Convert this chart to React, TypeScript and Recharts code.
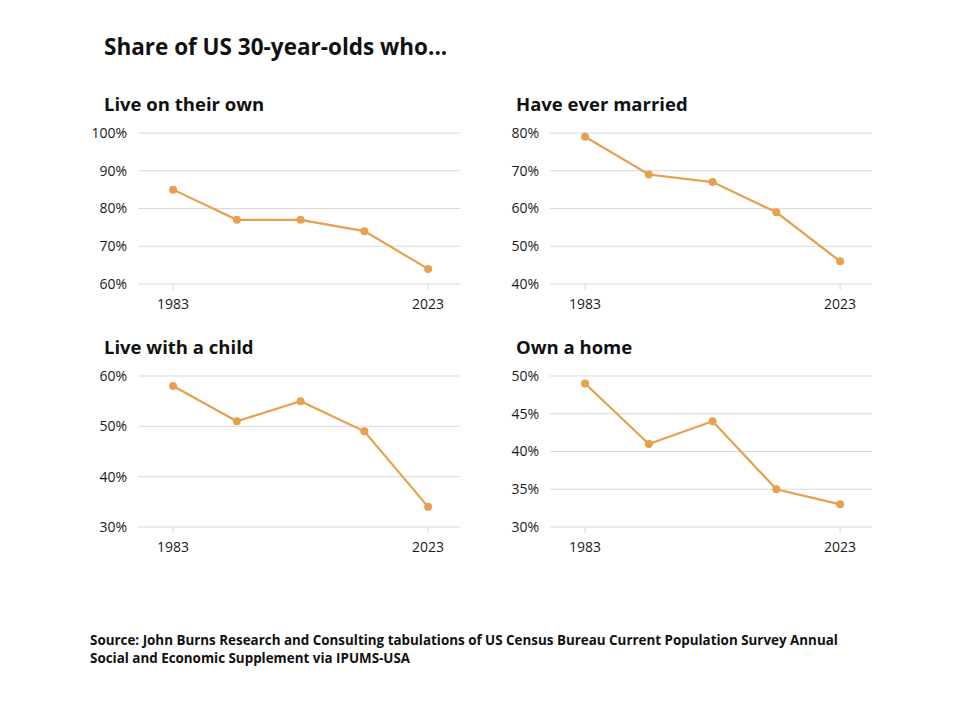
import { CartesianGrid, Line, LineChart, XAxis, YAxis } from 'recharts';

const years = [1983, 1993, 2003, 2013, 2023];
const yearTicks = [1983, 2023];

const liveAlone = [85, 77, 77, 74, 64];
const everMarried = [79, 69, 67, 59, 46];
const withChild = [58, 51, 55, 49, 34];
const ownHome = [49, 41, 44, 35, 33];

const liveAloneTicks = [60, 70, 80, 90, 100];
const marriedTicks = [40, 50, 60, 70, 80];
const childTicks = [30, 40, 50, 60];
const homeTicks = [30, 35, 40, 45, 50];

const LINE = '#E6A04E';
const GRID = '#d9d9d9';
const FONT = '"Open Sans", "Noto Sans", sans-serif';

function Panel({
  title,
  values,
  ticks,
  left,
  top,
}: {
  title: string;
  values: number[];
  ticks: number[];
  left: number;
  top: number;
}) {
  const data = years.map((year, i) => ({ year, value: values[i] }));
  return (
    <div style={{ position: 'absolute', left, top }}>
      <div
        style={{
          position: 'absolute',
          left: 16,
          top: -28,
          fontSize: 18.5,
          fontWeight: 700,
          color: '#111',
          whiteSpace: 'nowrap',
        }}
      >
        {title}
      </div>
      <LineChart width={372} height={195} data={data} margin={{ top: 14, right: 0, left: 0, bottom: 0 }}>
        <CartesianGrid stroke={GRID} vertical={false} />
        <XAxis
          dataKey="year"
          type="number"
          domain={[1977.5, 2028]}
          ticks={yearTicks}
          axisLine={false}
          tickLine={{ stroke: GRID }}
          tickSize={6}
          tickMargin={9}
          height={30}
          tick={{ fill: '#1a1a1a', fontSize: 14, fontFamily: FONT }}
        />
        <YAxis
          type="number"
          domain={[ticks[0], ticks[ticks.length - 1]]}
          ticks={ticks}
          width={50}
          axisLine={false}
          tickLine={false}
          tickMargin={5}
          tickFormatter={(v) => `${v}%`}
          tick={{ fill: '#1a1a1a', fontSize: 14, fontFamily: FONT }}
        />
        <Line
          dataKey="value"
          stroke={LINE}
          strokeWidth={2.2}
          dot={{ r: 4, fill: LINE, stroke: 'none' }}
          isAnimationActive={false}
        />
      </LineChart>
    </div>
  );
}

export default function App() {
  return (
    <div
      style={{
        position: 'absolute',
        left: 0,
        top: 0,
        width: 960,
        height: 717,
        background: '#fff',
        fontFamily: FONT,
      }}
    >
      <div style={{ position: 'absolute', left: 104, top: 31, fontSize: 22.5, fontWeight: 700, color: '#111' }}>
        Share of US 30-year-olds who...
      </div>
      <Panel title="Live on their own" values={liveAlone} ticks={liveAloneTicks} left={88} top={119} />
      <Panel title="Have ever married" values={everMarried} ticks={marriedTicks} left={500} top={119} />
      <Panel title="Live with a child" values={withChild} ticks={childTicks} left={88} top={362} />
      <Panel title="Own a home" values={ownHome} ticks={homeTicks} left={500} top={362} />
      <div
        style={{
          position: 'absolute',
          left: 90,
          top: 631,
          fontSize: 13.4,
          fontWeight: 700,
          lineHeight: '18px',
          color: '#111',
          width: 800,
        }}
      >
        Source: John Burns Research and Consulting tabulations of US Census Bureau Current Population Survey Annual
        <br />
        Social and Economic Supplement via IPUMS-USA
      </div>
    </div>
  );
}
